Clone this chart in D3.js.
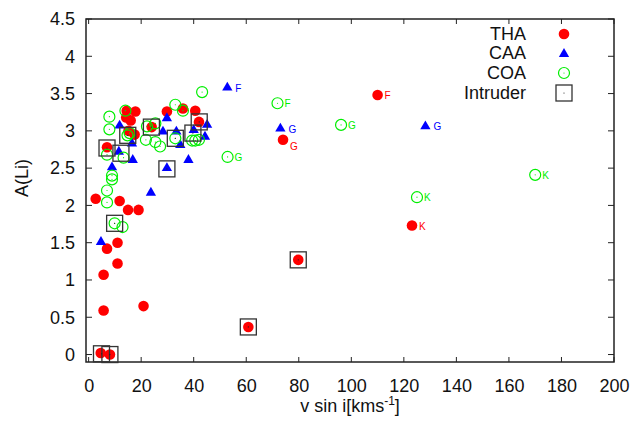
<!DOCTYPE html>
<html><head><meta charset="utf-8">
<script src="https://cdn.jsdelivr.net/npm/d3@7"></script>
<style>
body{margin:0;background:#fff;}
svg{display:block;font-family:"Liberation Sans",Arial,sans-serif;}
</style></head>
<body><svg id="c" width="644" height="425"></svg>
<script>
// THA: [vsini, A(Li), label]
const thaData = [
  [2.7,2.09,""],[11.8,2.06,""],[15.0,1.94,""],[19.0,1.94,""],[7.0,1.42,""],
  [11.0,1.50,""],[11.0,1.22,""],[5.7,1.07,""],[5.7,0.59,""],[20.9,0.65,""],
  [4.6,0.02,""],[8.1,0.00,""],[60.8,0.37,""],[79.8,1.27,""],[7.0,2.78,""],
  [14.5,3.27,""],[17.8,3.26,""],[14.3,3.18,""],[16.0,3.14,""],[15.2,3.00,""],
  [17.5,2.95,""],[24.0,3.05,""],[29.8,3.26,""],[35.9,3.30,""],[40.6,3.27,""],
  [42.0,3.12,""],[74.0,2.88,"G"],[110.0,3.48,"F"],[123.1,1.73,"K"]
];
const caaData = [
  [52.8,3.58,"F"],[73.0,3.03,"G"],[128.2,3.06,"G"],[29.8,3.17,""],[11.8,3.07,""],
  [45.1,3.08,""],[28.3,2.99,""],[33.4,2.99,""],[40.0,3.01,""],[44.3,2.92,""],
  [34.9,2.81,""],[16.5,2.83,""],[11.5,2.72,""],[16.8,2.61,""],[38.0,2.61,""],
  [8.9,2.51,""],[29.8,2.50,""],[23.7,2.17,""],[4.7,1.51,""]
];
const coaData = [
  [71.9,3.37,"F"],[96.1,3.08,"G"],[52.9,2.65,"G"],[170.0,2.41,"K"],[125.0,2.11,"K"],
  [43.2,3.52,""],[7.9,3.19,""],[14.0,3.27,""],[33.0,3.35,""],[35.9,3.27,""],
  [7.9,3.02,""],[22.2,3.06,""],[25.4,3.10,""],[21.8,2.88,""],[14.8,2.94,""],
  [15.6,2.97,""],[27.2,2.79,""],[25.4,2.85,""],[33.0,2.90,""],[39.4,2.87,""],
  [40.6,2.87,""],[42.0,2.88,""],[7.0,2.68,""],[13.3,2.64,""],[8.9,2.40,""],
  [8.9,2.35,""],[7.0,2.20,""],[7.0,2.04,""],[9.9,1.76,""],[12.9,1.71,""]
];
const intruderData = [
  [7.0,2.77],[12.3,2.70],[14.9,2.94],[23.9,3.05],[33.0,2.90],[39.7,2.97],
  [42.1,3.12],[29.8,2.49],[9.9,1.76],[4.9,0.01],[8.1,0.00],[60.8,0.37],[79.8,1.27]
];
const xTicks = [0,20,40,60,80,100,120,140,160,180,200];
const yTicks = [0,0.5,1,1.5,2,2.5,3,3.5,4,4.5];
const legendNames = ["THA","CAA","COA","Intruder"];

const svg = d3.select("#c");
const L=86, R=614, T=19, B=362;
const x = d3.scaleLinear().domain([-1,200]).range([L,R]);
const y = d3.scaleLinear().domain([-0.1,4.5]).range([B,T]);

const RED="#ff0000", BLUE="#0000ff", GREEN="#00ee00";

// axes
const gx = svg.append("g").attr("transform",`translate(0,${B})`)
  .call(d3.axisBottom(x).tickValues(xTicks).tickSize(0).tickPadding(17).tickFormat(d3.format("d")));
const gy = svg.append("g").attr("transform",`translate(${L},0)`)
  .call(d3.axisLeft(y).tickValues(yTicks).tickSize(0).tickPadding(11).tickFormat(d=>String(d)));
[gx,gy].forEach(g=>{g.select(".domain").remove();
  g.selectAll("text").attr("font-size",18).attr("fill","#111").attr("font-family","'Liberation Sans',Arial,sans-serif");});
gx.selectAll("text").attr("dy","0.71em");

// tick marks (inward, mirrored)
const tk = svg.append("g").attr("stroke","#222").attr("stroke-width",1);
xTicks.forEach(v=>{
  tk.append("line").attr("x1",x(v)).attr("x2",x(v)).attr("y1",B).attr("y2",B-5);
  tk.append("line").attr("x1",x(v)).attr("x2",x(v)).attr("y1",T).attr("y2",T+5);
});
yTicks.forEach(v=>{
  tk.append("line").attr("x1",L).attr("x2",L+6).attr("y1",y(v)).attr("y2",y(v));
  tk.append("line").attr("x1",R).attr("x2",R-6).attr("y1",y(v)).attr("y2",y(v));
});

// frame
svg.append("rect").attr("x",L).attr("y",T).attr("width",R-L).attr("height",B-T)
  .attr("fill","none").attr("stroke","#222").attr("stroke-width",1.5);

// titles
const xt = svg.append("text").attr("x",350).attr("y",412).attr("text-anchor","middle")
  .attr("font-size",18).attr("fill","#111");
xt.append("tspan").text("v sin i[kms");
xt.append("tspan").attr("font-size",12).attr("dy",-7).text("-1");
xt.append("tspan").attr("dy",7).text("]");
svg.append("text").attr("transform","translate(28,178) rotate(-90)").attr("text-anchor","middle")
  .attr("font-size",18).attr("fill","#111").text("A(Li)");

const plot = svg.append("g");
const tri = d3.symbol().type(d3.symbolTriangle).size(46);

// THA
plot.append("g").selectAll("circle").data(thaData).join("circle")
  .attr("cx",d=>x(d[0])).attr("cy",d=>y(d[1])).attr("r",5.3).attr("fill",RED);
// CAA
plot.append("g").selectAll("path").data(caaData).join("path")
  .attr("d",tri).attr("transform",d=>`translate(${x(d[0])},${y(d[1])})`).attr("fill",BLUE);
// COA
const coa = plot.append("g");
coa.selectAll("circle.o").data(coaData).join("circle").attr("class","o")
  .attr("cx",d=>x(d[0])).attr("cy",d=>y(d[1])).attr("r",5.5)
  .attr("fill","none").attr("stroke",GREEN).attr("stroke-width",1.2);
coa.selectAll("circle.d").data(coaData).join("circle").attr("class","d")
  .attr("cx",d=>x(d[0])).attr("cy",d=>y(d[1])).attr("r",0.6).attr("fill",GREEN);
// Intruder
const itr = plot.append("g");
itr.selectAll("rect").data(intruderData).join("rect")
  .attr("x",d=>x(d[0])-8).attr("y",d=>y(d[1])-8).attr("width",16).attr("height",16)
  .attr("fill","none").attr("stroke","#333").attr("stroke-width",1.3);
itr.selectAll("circle").data(intruderData).join("circle")
  .attr("cx",d=>x(d[0])).attr("cy",d=>y(d[1])).attr("r",0.6).attr("fill","#222");

// point labels
const lab = svg.append("g").attr("font-size",10);
thaData.filter(d=>d[2]).forEach(d=>{
  const dy = d[2]==="G" ? 10 : 4;
  lab.append("text").attr("x",x(d[0])+7).attr("y",y(d[1])+dy).attr("fill",RED).text(d[2]);
});
caaData.filter(d=>d[2]).forEach(d=>{
  lab.append("text").attr("x",x(d[0])+8).attr("y",y(d[1])+4).attr("fill",BLUE).text(d[2]);
});
coaData.filter(d=>d[2]).forEach(d=>{
  lab.append("text").attr("x",x(d[0])+7).attr("y",y(d[1])+4).attr("fill",GREEN).text(d[2]);
});

// legend
const lg = svg.append("g");
const ly = [34,53,73,93];
legendNames.forEach((n,i)=>{
  lg.append("text").attr("x",526).attr("y",ly[i]).attr("dy","0.35em").attr("text-anchor","end")
    .attr("font-size",18).attr("fill","#111").text(n);
});
const mx = 564;
lg.append("circle").attr("cx",mx).attr("cy",ly[0]).attr("r",5.3).attr("fill",RED);
lg.append("path").attr("d",tri).attr("transform",`translate(${mx},${ly[1]+1})`).attr("fill",BLUE);
lg.append("circle").attr("cx",mx).attr("cy",ly[2]).attr("r",5.5).attr("fill","none").attr("stroke",GREEN).attr("stroke-width",1.2);
lg.append("circle").attr("cx",mx).attr("cy",ly[2]).attr("r",0.6).attr("fill",GREEN);
lg.append("rect").attr("x",mx-8).attr("y",ly[3]-8).attr("width",16).attr("height",16).attr("fill","none").attr("stroke","#333").attr("stroke-width",1.3);
lg.append("circle").attr("cx",mx).attr("cy",ly[3]).attr("r",0.6).attr("fill","#222");
</script></body></html>
